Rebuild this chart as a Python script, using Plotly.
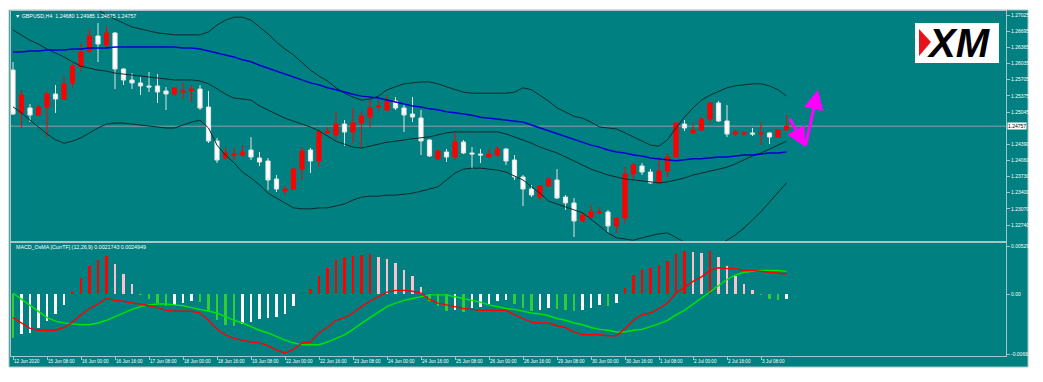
import plotly.graph_objects as go

# ---------------- data ----------------
time_labels = ["12 Jun 2020", "15 Jun 08:00", "16 Jun 00:00", "16 Jun 16:00", "17 Jun 08:00",
               "18 Jun 00:00", "18 Jun 16:00", "19 Jun 08:00", "22 Jun 00:00", "22 Jun 16:00",
               "23 Jun 08:00", "24 Jun 00:00", "24 Jun 16:00", "25 Jun 08:00", "26 Jun 00:00",
               "26 Jun 16:00", "29 Jun 08:00", "30 Jun 00:00", "30 Jun 16:00", "1 Jul 08:00",
               "2 Jul 00:00", "2 Jul 16:00", "3 Jul 08:00"]
bars_per_label = 4

price_ticks = [1.27025, 1.26695, 1.26365, 1.26035, 1.25705, 1.25375, 1.25045,
               1.24390, 1.24060, 1.23730, 1.23400, 1.23070, 1.22740, 1.22410]
osma_ticks = [0.005295, 0.0, -0.00663]
osma_tick_text = ["0.005295", "0.00", "-0.00663"]
last_price = 1.24757
title_text = "\u25bc GBPUSD,H4  1.24680 1.24985 1.24675 1.24757"
macd_title = "MACD_OsMA [CurrTF] (12,26,9) 0.0021743 0.0024949"

open_ = [1.25903, 1.25026, 1.25128, 1.24985, 1.25148, 1.25413, 1.25311, 1.25638, 1.25964, 1.26291,
         1.26597, 1.26413, 1.26658, 1.25923, 1.25699, 1.25638, 1.25577, 1.25577, 1.25475, 1.25413,
         1.25454, 1.25475, 1.25515, 1.25148, 1.24455, 1.24108, 1.24169, 1.24169, 1.24271, 1.24108,
         1.24047, 1.23679, 1.23435, 1.23475, 1.23883, 1.24271, 1.24047, 1.24618, 1.24577, 1.24801,
         1.24638, 1.24822, 1.24944, 1.25148, 1.25087, 1.25271, 1.25128, 1.25005, 1.24924, 1.24475,
         1.24087, 1.24230, 1.24128, 1.24434, 1.24210, 1.24189, 1.24128, 1.24169, 1.24291, 1.24067,
         1.23720, 1.23475, 1.23312, 1.23537, 1.23659, 1.23312, 1.23190, 1.22823, 1.22904, 1.22986,
         1.23006, 1.22721, 1.22884, 1.23781, 1.23945, 1.23822, 1.23598, 1.23843, 1.24128, 1.24801,
         1.24618, 1.24679, 1.24903, 1.25230, 1.24863, 1.24597, 1.24597, 1.24618, 1.24597, 1.24618,
         1.24536, 1.24680]
high = [1.26066, 1.25495, 1.25209, 1.25189, 1.25475, 1.25597, 1.25781, 1.26046, 1.26454, 1.26739,
        1.26862, 1.26801, 1.26678, 1.25944, 1.25842, 1.25760, 1.25862, 1.25821, 1.25556, 1.25556,
        1.25638, 1.25597, 1.25597, 1.25475, 1.24516, 1.24312, 1.24312, 1.24373, 1.24536, 1.24230,
        1.24108, 1.23761, 1.23537, 1.23904, 1.24332, 1.24312, 1.24699, 1.24740, 1.25046, 1.24883,
        1.25128, 1.25046, 1.25311, 1.25291, 1.25393, 1.25352, 1.25230, 1.25352, 1.25087, 1.24495,
        1.24291, 1.24291, 1.24618, 1.24475, 1.24332, 1.24291, 1.24291, 1.24353, 1.24312, 1.24169,
        1.23761, 1.23557, 1.23557, 1.23720, 1.23883, 1.23353, 1.23292, 1.23006, 1.23149, 1.23108,
        1.23047, 1.22904, 1.23924, 1.24006, 1.24006, 1.23883, 1.24128, 1.24210, 1.24842, 1.24883,
        1.24822, 1.24944, 1.25250, 1.25271, 1.25189, 1.24679, 1.24659, 1.24720, 1.24842, 1.24638,
        1.24699, 1.24985]
low = [1.24985, 1.24720, 1.24842, 1.24965, 1.24536, 1.25026, 1.25291, 1.25536, 1.25862, 1.26250,
       1.26066, 1.26352, 1.25515, 1.25597, 1.25515, 1.25393, 1.25454, 1.25230, 1.25087, 1.25373,
       1.25311, 1.25250, 1.25087, 1.24414, 1.24006, 1.24067, 1.24067, 1.24128, 1.24067, 1.23945,
       1.23455, 1.23414, 1.23353, 1.23455, 1.23659, 1.23802, 1.23924, 1.24597, 1.24495, 1.24353,
       1.24414, 1.24312, 1.24720, 1.25067, 1.25067, 1.25087, 1.24638, 1.24842, 1.24169, 1.24128,
       1.24067, 1.24026, 1.24067, 1.24189, 1.23883, 1.24006, 1.24108, 1.24128, 1.23965, 1.23659,
       1.23129, 1.23312, 1.23231, 1.23516, 1.23271, 1.23047, 1.22496, 1.22802, 1.22884, 1.22965,
       1.22578, 1.22578, 1.22782, 1.23659, 1.23761, 1.23577, 1.23577, 1.23720, 1.24108, 1.24659,
       1.24597, 1.24659, 1.24801, 1.24842, 1.24536, 1.24557, 1.24557, 1.24557, 1.24373, 1.24393,
       1.24536, 1.24675]
close_ = [1.25005, 1.25393, 1.24985, 1.25148, 1.25413, 1.25311, 1.25617, 1.25985, 1.26270, 1.26597,
          1.26433, 1.26658, 1.25923, 1.25699, 1.25638, 1.25577, 1.25556, 1.25454, 1.25413, 1.25536,
          1.25475, 1.25515, 1.25128, 1.24455, 1.24067, 1.24210, 1.24189, 1.24230, 1.24128, 1.24026,
          1.23659, 1.23475, 1.23475, 1.23883, 1.24251, 1.24047, 1.24638, 1.24659, 1.24801, 1.24638,
          1.24822, 1.24965, 1.25128, 1.25169, 1.25271, 1.25128, 1.24985, 1.24944, 1.24455, 1.24149,
          1.24251, 1.24128, 1.24434, 1.24210, 1.24189, 1.24169, 1.24189, 1.24291, 1.24047, 1.23720,
          1.23475, 1.23353, 1.23537, 1.23679, 1.23292, 1.23190, 1.22823, 1.22945, 1.23006, 1.23006,
          1.22721, 1.22884, 1.23781, 1.23965, 1.23822, 1.23598, 1.23843, 1.24128, 1.24822, 1.24720,
          1.24679, 1.24903, 1.25230, 1.24863, 1.24597, 1.24638, 1.24618, 1.24597, 1.24618, 1.24536,
          1.24679, 1.24757]

bb_upper = [1.2794, 1.2798, 1.2800, 1.2800, 1.2797, 1.2790, 1.2778, 1.2762, 1.2745, 1.2727,
            1.2713, 1.2702, 1.2694, 1.2686, 1.2678, 1.2674, 1.2670, 1.2666, 1.2664, 1.2662,
            1.2662, 1.2662, 1.2662, 1.2668, 1.2682, 1.2692, 1.2698, 1.2698, 1.2692, 1.2678,
            1.2664, 1.2647, 1.2633, 1.2621, 1.2605, 1.2590, 1.2578, 1.2568, 1.2554, 1.2543,
            1.2535, 1.2529, 1.2531, 1.2537, 1.2550, 1.2556, 1.2562, 1.2564, 1.2566, 1.2566,
            1.2562, 1.2556, 1.2550, 1.2545, 1.2543, 1.2543, 1.2543, 1.2543, 1.2543, 1.2545,
            1.2554, 1.2550, 1.2539, 1.2527, 1.2513, 1.2505, 1.2496, 1.2492, 1.2484, 1.2474,
            1.2472, 1.2470, 1.2462, 1.2454, 1.2445, 1.2437, 1.2435, 1.2448, 1.2472, 1.2494,
            1.2513, 1.2529, 1.2539, 1.2547, 1.2554, 1.2558, 1.2560, 1.2562, 1.2562, 1.2558,
            1.2550, 1.2537]
bb_mid = [1.2672, 1.2662, 1.2651, 1.2643, 1.2633, 1.2625, 1.2617, 1.2607, 1.2598, 1.2594,
          1.2590, 1.2588, 1.2584, 1.2582, 1.2580, 1.2578, 1.2576, 1.2574, 1.2572, 1.2570,
          1.2570, 1.2570, 1.2568, 1.2562, 1.2552, 1.2541, 1.2533, 1.2531, 1.2529, 1.2517,
          1.2509, 1.2501, 1.2492, 1.2486, 1.2480, 1.2474, 1.2466, 1.2456, 1.2445, 1.2439,
          1.2433, 1.2431, 1.2435, 1.2439, 1.2443, 1.2445, 1.2448, 1.2450, 1.2452, 1.2454,
          1.2458, 1.2462, 1.2464, 1.2464, 1.2464, 1.2464, 1.2464, 1.2464, 1.2460, 1.2454,
          1.2448, 1.2441, 1.2433, 1.2427, 1.2421, 1.2413, 1.2405, 1.2397, 1.2388, 1.2382,
          1.2376, 1.2372, 1.2368, 1.2366, 1.2364, 1.2362, 1.2360, 1.2362, 1.2366, 1.2370,
          1.2376, 1.2380, 1.2384, 1.2388, 1.2392, 1.2399, 1.2407, 1.2415, 1.2421, 1.2429,
          1.2437, 1.2445]
bb_lower = [1.2515, 1.2503, 1.2488, 1.2474, 1.2460, 1.2448, 1.2441, 1.2445, 1.2452, 1.2462,
            1.2472, 1.2480, 1.2482, 1.2482, 1.2480, 1.2478, 1.2476, 1.2474, 1.2472, 1.2472,
            1.2478, 1.2484, 1.2488, 1.2472, 1.2437, 1.2417, 1.2401, 1.2382, 1.2370, 1.2356,
            1.2339, 1.2329, 1.2319, 1.2309, 1.2307, 1.2307, 1.2309, 1.2309, 1.2313, 1.2317,
            1.2325, 1.2331, 1.2333, 1.2333, 1.2335, 1.2335, 1.2337, 1.2339, 1.2343, 1.2348,
            1.2352, 1.2366, 1.2380, 1.2388, 1.2390, 1.2390, 1.2388, 1.2386, 1.2382, 1.2374,
            1.2366, 1.2352, 1.2339, 1.2323, 1.2317, 1.2311, 1.2305, 1.2299, 1.2286, 1.2272,
            1.2258, 1.2248, 1.2246, 1.2243, 1.2248, 1.2252, 1.2256, 1.2258, 1.2248, 1.2239,
            1.2235, 1.2233, 1.2233, 1.2235, 1.2243, 1.2254, 1.2268, 1.2284, 1.2301, 1.2321,
            1.2341, 1.2360]
ma_blue = [1.2627, 1.2627, 1.2629, 1.2629, 1.2631, 1.2631, 1.2631, 1.2633, 1.2633, 1.2635,
           1.2635, 1.2635, 1.2637, 1.2637, 1.2637, 1.2637, 1.2637, 1.2637, 1.2637, 1.2637,
           1.2635, 1.2635, 1.2633, 1.2629, 1.2625, 1.2621, 1.2617, 1.2611, 1.2607, 1.2600,
           1.2594, 1.2588, 1.2582, 1.2576, 1.2570, 1.2564, 1.2560, 1.2554, 1.2550, 1.2545,
           1.2541, 1.2537, 1.2535, 1.2533, 1.2529, 1.2525, 1.2521, 1.2517, 1.2515, 1.2511,
           1.2509, 1.2505, 1.2503, 1.2501, 1.2498, 1.2494, 1.2492, 1.2490, 1.2488, 1.2486,
           1.2484, 1.2478, 1.2472, 1.2466, 1.2460, 1.2454, 1.2448, 1.2443, 1.2437, 1.2433,
           1.2427, 1.2423, 1.2421, 1.2417, 1.2415, 1.2411, 1.2409, 1.2407, 1.2405, 1.2407,
           1.2409, 1.2409, 1.2411, 1.2413, 1.2413, 1.2415, 1.2417, 1.2417, 1.2419, 1.2421,
           1.2421, 1.2423]

osma = [-0.0049, -0.0044, -0.0043, -0.0038, -0.0030, -0.0022, -0.0012, 0.0002, 0.0018, 0.0031,
        0.0037, 0.0042, 0.0033, 0.0022, 0.0011, -0.0001, -0.0006, -0.0010, -0.0013, -0.0012,
        -0.0010, -0.0008, -0.0009, -0.0019, -0.0029, -0.0034, -0.0035, -0.0033, -0.0031, -0.0028,
        -0.0027, -0.0025, -0.0022, -0.0013, 0.0001, 0.0006, 0.0020, 0.0029, 0.0038, 0.0041,
        0.0042, 0.0043, 0.0044, 0.0041, 0.0039, 0.0034, 0.0027, 0.0020, 0.0008, -0.0008,
        -0.0013, -0.0019, -0.0018, -0.0020, -0.0015, -0.0014, -0.0011, -0.0008, -0.0007, -0.0011,
        -0.0015, -0.0019, -0.0018, -0.0015, -0.0016, -0.0018, -0.0019, -0.0018, -0.0015, -0.0012,
        -0.0013, -0.0010, 0.0007, 0.0021, 0.0028, 0.0029, 0.0032, 0.0036, 0.0045, 0.0048,
        0.0046, 0.0045, 0.0047, 0.0041, 0.0031, 0.0020, 0.0011, 0.0004, -0.0001, -0.0006,
        -0.0007, -0.0006]
macd_main = [-0.0026, -0.0032, -0.0038, -0.0040, -0.0040, -0.0040, -0.0037, -0.0031, -0.0023, -0.0016,
             -0.0011, -0.0005, -0.0007, -0.0008, -0.0010, -0.0011, -0.0013, -0.0015, -0.0018, -0.0019,
             -0.0019, -0.0019, -0.0021, -0.0029, -0.0039, -0.0045, -0.0049, -0.0051, -0.0053, -0.0054,
             -0.0057, -0.0062, -0.0065, -0.0061, -0.0054, -0.0053, -0.0043, -0.0037, -0.0029, -0.0026,
             -0.0021, -0.0014, -0.0008, -0.0003, 0.0002, 0.0004, 0.0004, 0.0003, 0.0001, -0.0006,
             -0.0010, -0.0012, -0.0014, -0.0016, -0.0017, -0.0018, -0.0018, -0.0018, -0.0018, -0.0023,
             -0.0027, -0.0031, -0.0032, -0.0032, -0.0035, -0.0037, -0.0042, -0.0045, -0.0045, -0.0045,
             -0.0046, -0.0046, -0.0038, -0.0029, -0.0023, -0.0021, -0.0016, -0.0010, 0.0001, 0.0008,
             0.0014, 0.0019, 0.0026, 0.0029, 0.0028, 0.0028, 0.0026, 0.0026, 0.0025, 0.0024,
             0.0023, 0.0022]
macd_signal = [0.0001, -0.0006, -0.0012, -0.0020, -0.0026, -0.0030, -0.0032, -0.0033, -0.0034, -0.0034,
               -0.0032, -0.0029, -0.0025, -0.0021, -0.0017, -0.0014, -0.0012, -0.0011, -0.0011, -0.0012,
               -0.0013, -0.0015, -0.0017, -0.0019, -0.0021, -0.0025, -0.0029, -0.0032, -0.0036, -0.0040,
               -0.0043, -0.0047, -0.0051, -0.0054, -0.0056, -0.0056, -0.0056, -0.0053, -0.0049, -0.0045,
               -0.0039, -0.0032, -0.0026, -0.0020, -0.0014, -0.0010, -0.0007, -0.0005, -0.0003, -0.0001,
               -0.0001, -0.0001, -0.0003, -0.0005, -0.0007, -0.0009, -0.0012, -0.0014, -0.0016, -0.0017,
               -0.0019, -0.0021, -0.0022, -0.0024, -0.0027, -0.0029, -0.0032, -0.0034, -0.0037, -0.0039,
               -0.0040, -0.0042, -0.0042, -0.0040, -0.0039, -0.0036, -0.0033, -0.0029, -0.0023, -0.0018,
               -0.0011, -0.0005, 0.0003, 0.0010, 0.0016, 0.0021, 0.0024, 0.0025, 0.0026, 0.0026,
               0.0026, 0.0025]

# hand-drawn forecast arrows (bar position, price)
forecast_x = [91.3, 93.2, 94.7]
forecast_y = [1.2494, 1.2433, 1.2550]

bars = list(range(len(close_)))

# ---------------- styling / geometry ----------------
W, H = 1043, 382
L, R, T, B = 11, 1006, 11, 356
MAIN_BOTTOM, MACD_TOP = 241, 243
BAR_PX, BAR0_PX = 8.5, 13
TEAL = "#008080"
BORDER = "#a9c4c4"
FONT = "Liberation Sans"


def fx(px):
    return (px - L) / (R - L)


def fy(py):
    return (B - py) / (B - T)


x_range = [(L - BAR0_PX) / BAR_PX, (R - BAR0_PX) / BAR_PX]

fig = go.Figure()

fig.add_trace(go.Candlestick(
    x=bars, open=open_, high=high, low=low, close=close_,
    increasing=dict(line=dict(color="#ff0000", width=1), fillcolor="#ff0000"),
    decreasing=dict(line=dict(color="#e4e4e4", width=1), fillcolor="#ffffff"),
    whiskerwidth=0, showlegend=False, hoverinfo="skip", xaxis="x", yaxis="y"))

for series, color, width in [(bb_upper, "#0d2a2a", 1), (bb_mid, "#0d2a2a", 1),
                             (bb_lower, "#0d2a2a", 1), (ma_blue, "#0000d0", 1.5)]:
    fig.add_trace(go.Scatter(x=bars, y=series, mode="lines",
                             line=dict(color=color, width=width),
                             showlegend=False, hoverinfo="skip", xaxis="x", yaxis="y"))

hist_colors = []
for i, v in enumerate(osma):
    rising = i > 0 and v >= osma[i - 1]
    if v >= 0:
        hist_colors.append("#ff0000" if rising else "#ffc0cb")
    else:
        hist_colors.append("#ffffff" if rising else "#32cd32")

fig.add_trace(go.Bar(x=bars, y=osma, width=0.24, marker=dict(color=hist_colors, line=dict(width=0)),
                     showlegend=False, hoverinfo="skip", xaxis="x2", yaxis="y2"))
fig.add_trace(go.Scatter(x=bars, y=macd_signal, mode="lines", line=dict(color="#00e600", width=1.4),
                         showlegend=False, hoverinfo="skip", xaxis="x2", yaxis="y2"))
fig.add_trace(go.Scatter(x=bars, y=macd_main, mode="lines", line=dict(color="#ff0000", width=1.4),
                         showlegend=False, hoverinfo="skip", xaxis="x2", yaxis="y2"))

axis_common = dict(showgrid=False, zeroline=False, showline=True, mirror=True,
                   linecolor=BORDER, linewidth=1, automargin=False)

fig.update_layout(
    width=W, height=H,
    margin=dict(l=L, r=W - R, t=T, b=H - B, pad=0, autoexpand=False),
    paper_bgcolor="white", plot_bgcolor=TEAL,
    boxgap=0.3, bargap=0, showlegend=False, hovermode=False,
    font=dict(family=FONT, color="white", size=5),
    xaxis=dict(domain=[0, 1], range=x_range, anchor="y", showticklabels=False, ticks="",
               rangeslider=dict(visible=False), **axis_common),
    xaxis2=dict(domain=[0, 1], range=x_range, matches="x", anchor="y2",
                tickmode="array",
                tickvals=[k * bars_per_label for k in range(len(time_labels))],
                ticktext=time_labels, ticks="outside", ticklen=3, tickcolor=BORDER,
                ticklabelposition="outside right", tickangle=0,
                tickfont=dict(size=4.6, color="white", family=FONT), **axis_common),
    yaxis=dict(domain=[fy(MAIN_BOTTOM), 1], range=[1.27331 - 0.000204 * MAIN_BOTTOM, 1.27331 - 0.000204 * T],
               anchor="x", side="right", tickmode="array", tickvals=price_ticks,
               ticktext=["%.5f" % v for v in price_ticks], ticks="outside", ticklen=3,
               tickcolor=BORDER, tickfont=dict(size=5, color="white", family=FONT), **axis_common),
    yaxis2=dict(domain=[0, fy(MACD_TOP)], range=[(294 - B) / 9060, (294 - MACD_TOP) / 9060],
                anchor="x2", side="right", tickmode="array", tickvals=osma_ticks,
                ticktext=osma_tick_text, ticks="outside", ticklen=3, tickcolor=BORDER,
                tickfont=dict(size=5, color="white", family=FONT), **axis_common),
)

shapes = [
    # terminal window background
    dict(type="rect", xref="paper", yref="paper", x0=fx(9), x1=fx(1028), y0=fy(367), y1=fy(10),
         fillcolor=TEAL, line=dict(color=BORDER, width=1), layer="below"),
    # bid line
    dict(type="line", xref="x", yref="y", x0=x_range[0], x1=x_range[1], y0=last_price, y1=last_price,
         line=dict(color="#8f9f9f", width=1), layer="below"),
    # XM logo box
    dict(type="rect", xref="paper", yref="paper", x0=fx(915), x1=fx(999), y0=fy(63), y1=fy(23),
         fillcolor="white", line=dict(width=0), layer="above"),
    dict(type="path", xref="paper", yref="paper",
         path="M %f,%f L %f,%f L %f,%f Z" % (fx(919), fy(29), fx(931), fy(42), fx(919), fy(56)),
         fillcolor="#e8141c", line=dict(width=0), layer="above"),
]
fig.update_layout(shapes=shapes)

annotations = [
    dict(xref="paper", yref="paper", x=fx(13), y=fy(16), xanchor="left", yanchor="middle",
         text=title_text, showarrow=False, font=dict(size=5.3, color="white", family=FONT)),
    dict(xref="paper", yref="paper", x=fx(14), y=fy(247), xanchor="left", yanchor="middle",
         text=macd_title, showarrow=False, font=dict(size=5.3, color="white", family=FONT)),
    dict(xref="paper", yref="y", x=fx(1007), y=last_price, xanchor="left", yanchor="middle",
         text="%.5f" % last_price, showarrow=False, bgcolor="white", borderpad=0,
         font=dict(size=5, color="black", family=FONT)),
    dict(xref="paper", yref="paper", x=fx(959), y=fy(43), xanchor="center", yanchor="middle",
         text="XM", showarrow=False,
         font=dict(size=40, color="black", family=FONT, weight="bold", style="italic")),
]
for k in range(1, len(forecast_x)):
    annotations.append(dict(
        xref="x", yref="y", axref="x", ayref="y",
        x=forecast_x[k], y=forecast_y[k], ax=forecast_x[k - 1], ay=forecast_y[k - 1],
        text="", showarrow=True, arrowhead=2, arrowsize=1.3, arrowwidth=3, arrowcolor="#ff00ff"))
fig.update_layout(annotations=annotations)

fig.write_html("out.html", config={"displayModeBar": False, "staticPlot": True},
               post_script="document.body.style.margin='0';")
